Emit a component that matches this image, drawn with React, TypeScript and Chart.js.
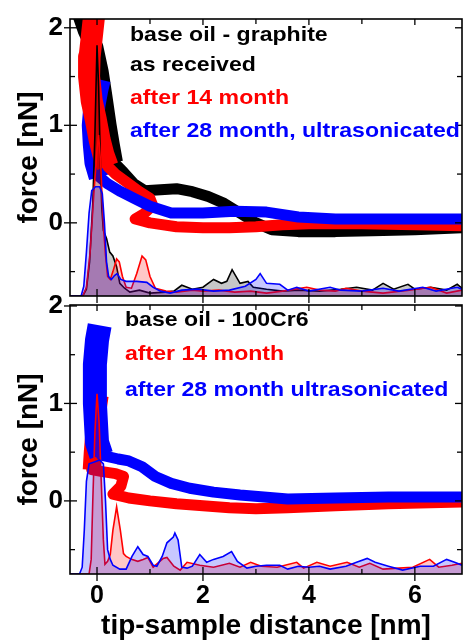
import React, { useEffect, useRef } from "react";
import { Chart, registerables } from "chart.js";
Chart.register(...registerables);

type Pt = [number, number];

// ---------- axes ----------
const X_TICKS = [0, 2, 4, 6];
const Y_TICKS = [0, 1, 2];
const X_MIN = -0.51;
const X_MAX = 6.89;
const Y_MIN = -0.75;
const Y_MAX_TOP = 2.09;
const Y_MAX_BOT = 2.01;

// ---------- legend texts ----------
const TOP_LABELS = ["base oil - graphite", "as received", "after 14 month", "after 28 month, ultrasonicated"];
const TOP_LABEL_COLORS = ["#000000", "#000000", "#ff0000", "#0000ff"];
const BOT_LABELS = ["base oil - 100Cr6", "after 14 month", "after 28 month ultrasonicated"];
const BOT_LABEL_COLORS = ["#000000", "#ff0000", "#0000ff"];

// ---------- top panel: force curves (nm, nN) ----------
const topBlackSteep: Pt[] = [[-0.3, 2.14], [-0.2, 1.98], [-0.05, 1.8], [0.05, 1.55], [0.12, 1.3], [0.2, 1.0], [0.26, 0.8], [0.32, 0.62]];
const topBlackFlat: Pt[] = [[0.32, 0.62], [0.5, 0.52], [0.7, 0.4], [0.9, 0.33], [1.2, 0.34], [1.5, 0.35], [1.8, 0.32], [2.1, 0.27], [2.4, 0.2], [2.7, 0.1], [3.0, 0.0], [3.3, -0.07], [3.8, -0.09], [4.5, -0.09], [5.2, -0.08], [6.0, -0.07], [6.9, -0.05]];
const topRedSteep: Pt[] = [[-0.05, 2.15], [-0.1, 1.9], [-0.14, 1.7], [-0.15, 1.5], [-0.1, 1.25], [-0.02, 1.05], [0.05, 0.85], [0.12, 0.7], [0.2, 0.58]];
const topRedFlat: Pt[] = [[0.2, 0.58], [0.35, 0.5], [0.55, 0.42], [0.8, 0.32], [1.0, 0.25], [1.05, 0.18], [0.88, 0.09], [0.72, 0.04], [1.0, 0.0], [1.5, -0.04], [2.0, -0.05], [2.5, -0.05], [3.0, -0.04], [3.5, -0.02], [4.0, -0.01], [5.0, -0.01], [6.0, -0.02], [6.9, -0.03]];
const topBlueSteep: Pt[] = [[0.05, 1.47], [0.0, 1.35], [-0.05, 1.2], [-0.08, 1.0], [-0.06, 0.8], [-0.03, 0.62], [0.05, 0.47]];
const topBlueFlat: Pt[] = [[0.05, 0.47], [0.2, 0.4], [0.45, 0.32], [0.7, 0.25], [1.0, 0.17], [1.4, 0.1], [2.0, 0.1], [2.6, 0.12], [3.2, 0.11], [3.8, 0.06], [4.5, 0.04], [5.5, 0.04], [6.9, 0.04]];

// ---------- top panel: distributions ----------
const topBlackDist: Pt[] = [[-0.51, -0.75], [-0.27, -0.75], [-0.2, -0.68], [-0.14, -0.4], [-0.08, 0.2], [-0.04, 0.9], [-0.01, 1.6], [0.0, 1.82], [0.03, 1.4], [0.06, 0.7], [0.09, 0.15], [0.12, -0.08], [0.18, -0.16], [0.24, -0.3], [0.3, -0.34], [0.37, -0.45], [0.43, -0.62], [0.52, -0.67], [0.62, -0.71], [0.8, -0.69], [1.0, -0.72], [1.3, -0.71], [1.45, -0.7], [1.6, -0.64], [1.8, -0.68], [2.0, -0.66], [2.2, -0.58], [2.35, -0.62], [2.45, -0.6], [2.55, -0.48], [2.7, -0.62], [2.85, -0.6], [2.95, -0.66], [3.2, -0.68], [3.5, -0.7], [3.8, -0.69], [4.2, -0.7], [4.6, -0.68], [4.9, -0.66], [5.2, -0.69], [5.4, -0.62], [5.6, -0.68], [5.87, -0.63], [6.0, -0.68], [6.3, -0.66], [6.6, -0.69], [6.8, -0.63], [6.89, -0.67]];
const topRedDist: Pt[] = [[-0.51, -0.75], [-0.27, -0.75], [-0.2, -0.66], [-0.13, -0.3], [-0.06, 0.3], [0.0, 0.75], [0.03, 0.9], [0.07, 0.6], [0.1, 0.2], [0.13, -0.1], [0.16, -0.33], [0.2, -0.55], [0.25, -0.58], [0.3, -0.5], [0.37, -0.37], [0.42, -0.4], [0.48, -0.55], [0.55, -0.66], [0.65, -0.67], [0.75, -0.52], [0.85, -0.34], [0.92, -0.38], [1.0, -0.55], [1.1, -0.67], [1.3, -0.7], [1.5, -0.71], [1.8, -0.69], [2.0, -0.7], [2.3, -0.69], [2.6, -0.71], [2.9, -0.7], [3.2, -0.72], [3.5, -0.7], [3.96, -0.66], [4.2, -0.69], [4.5, -0.7], [4.7, -0.67], [5.0, -0.7], [5.4, -0.72], [5.9, -0.69], [6.3, -0.66], [6.6, -0.72], [6.89, -0.69]];
const topBlueDist: Pt[] = [[-0.51, -0.75], [-0.3, -0.75], [-0.25, -0.65], [-0.2, -0.3], [-0.15, 0.1], [-0.1, 0.33], [-0.03, 0.37], [0.05, 0.37], [0.1, 0.3], [0.14, 0.0], [0.18, -0.4], [0.22, -0.55], [0.27, -0.58], [0.33, -0.54], [0.38, -0.52], [0.45, -0.58], [0.55, -0.6], [0.75, -0.6], [0.94, -0.61], [1.06, -0.66], [1.2, -0.7], [1.38, -0.72], [1.6, -0.69], [1.9, -0.68], [2.2, -0.7], [2.5, -0.69], [2.8, -0.65], [3.0, -0.58], [3.08, -0.52], [3.2, -0.62], [3.45, -0.63], [3.6, -0.69], [3.77, -0.66], [4.0, -0.7], [4.4, -0.66], [4.6, -0.69], [5.0, -0.7], [5.4, -0.67], [5.7, -0.7], [6.15, -0.66], [6.4, -0.7], [6.8, -0.66], [6.89, -0.68]];

// ---------- bottom panel: force curves ----------
const botRedSteep: Pt[] = [[0.05, 1.08], [0.0, 0.9], [-0.05, 0.7], [-0.08, 0.5], [-0.1, 0.32]];
const botRedFlat: Pt[] = [[-0.1, 0.32], [0.1, 0.3], [0.35, 0.28], [0.5, 0.25], [0.45, 0.15], [0.3, 0.07], [0.6, 0.03], [1.0, 0.0], [1.5, -0.03], [2.0, -0.05], [2.5, -0.07], [3.0, -0.08], [3.6, -0.07], [4.5, -0.05], [5.5, -0.03], [6.9, -0.01]];
const botBlueSteep: Pt[] = [[0.05, 1.8], [0.0, 1.65], [-0.04, 1.4], [-0.04, 1.0], [0.0, 0.6], [0.08, 0.47]];
const botBlueFlat: Pt[] = [[0.08, 0.47], [0.4, 0.43], [0.6, 0.41], [0.85, 0.35], [1.1, 0.25], [1.4, 0.18], [1.75, 0.13], [2.2, 0.09], [2.7, 0.06], [3.6, 0.02], [4.5, 0.03], [5.5, 0.04], [6.9, 0.04]];

// ---------- bottom panel: distributions ----------
const botRedDist: Pt[] = [[-0.51, -0.75], [-0.15, -0.75], [-0.11, -0.6], [-0.08, 0.0], [-0.04, 0.7], [0.0, 1.1], [0.04, 0.8], [0.08, 0.2], [0.12, -0.4], [0.15, -0.65], [0.2, -0.62], [0.25, -0.55], [0.3, -0.3], [0.37, -0.06], [0.44, -0.3], [0.5, -0.54], [0.55, -0.57], [0.65, -0.6], [0.77, -0.62], [0.87, -0.6], [0.96, -0.58], [1.06, -0.68], [1.25, -0.59], [1.32, -0.58], [1.45, -0.67], [1.57, -0.71], [1.7, -0.63], [1.94, -0.66], [2.2, -0.68], [2.5, -0.64], [2.7, -0.68], [2.9, -0.63], [3.1, -0.67], [3.4, -0.68], [3.77, -0.63], [3.9, -0.69], [4.15, -0.63], [4.4, -0.67], [4.72, -0.63], [4.95, -0.68], [5.15, -0.64], [5.4, -0.7], [5.7, -0.69], [5.96, -0.68], [6.28, -0.6], [6.45, -0.68], [6.7, -0.66], [6.89, -0.64]];
const botBlueDist: Pt[] = [[-0.51, -0.75], [-0.33, -0.75], [-0.28, -0.68], [-0.24, -0.3], [-0.2, 0.2], [-0.15, 0.38], [-0.05, 0.4], [0.05, 0.42], [0.12, 0.38], [0.16, 0.0], [0.2, -0.5], [0.25, -0.6], [0.3, -0.66], [0.43, -0.7], [0.55, -0.7], [0.66, -0.57], [0.77, -0.47], [0.87, -0.55], [0.96, -0.57], [1.06, -0.66], [1.13, -0.67], [1.23, -0.57], [1.32, -0.43], [1.44, -0.37], [1.47, -0.33], [1.53, -0.4], [1.6, -0.68], [1.7, -0.69], [1.8, -0.67], [1.94, -0.55], [2.07, -0.63], [2.2, -0.6], [2.38, -0.57], [2.54, -0.52], [2.65, -0.62], [2.83, -0.69], [3.0, -0.67], [3.2, -0.66], [3.45, -0.66], [3.6, -0.7], [3.8, -0.67], [4.0, -0.68], [4.2, -0.67], [4.4, -0.7], [4.7, -0.67], [4.9, -0.63], [5.1, -0.59], [5.25, -0.63], [5.5, -0.67], [5.77, -0.71], [6.1, -0.67], [6.35, -0.67], [6.6, -0.6], [6.75, -0.63], [6.89, -0.66]];

const FONT = "'Liberation Sans', Arial, Helvetica, sans-serif";
Chart.defaults.font.family = FONT;

const toXY = (pts: Pt[]) => pts.map(([x, y]) => ({ x, y }));

function band(pts: Pt[], color: string, width: number, order: number, cap: string) {
  return {
    data: toXY(pts),
    borderColor: color,
    borderWidth: width,
    borderJoinStyle: "round",
    borderCapStyle: cap,
    pointRadius: 0,
    fill: false,
    tension: 0,
    clip: 0,
    order,
  };
}

function dist(pts: Pt[], color: string, fillColor: string, order: number) {
  return {
    data: toXY(pts),
    borderColor: color,
    backgroundColor: fillColor,
    borderWidth: 1.6,
    pointRadius: 0,
    fill: "start",
    tension: 0,
    clip: 0,
    order,
  };
}

const framePlugin = {
  id: "frame",
  afterDraw(chart: any, _args: any, opts: any) {
    const { ctx, chartArea } = chart;
    const { left, right, top, bottom } = chartArea;
    const xs = chart.scales.x;
    const ys = chart.scales.y;
    ctx.save();
    ctx.strokeStyle = "#000";
    ctx.lineWidth = 1.6;
    ctx.strokeRect(left, top, right - left, bottom - top);
    ctx.lineWidth = 1.3;
    const seg = (x1: number, y1: number, x2: number, y2: number) => {
      ctx.beginPath();
      ctx.moveTo(x1, y1);
      ctx.lineTo(x2, y2);
      ctx.stroke();
    };
    for (let v = Math.ceil(xs.min); v <= xs.max; v++) {
      const px = xs.getPixelForValue(v);
      const major = v % 2 === 0;
      seg(px, bottom - (major ? 7 : 5), px, bottom + (major ? 7 : 0));
      seg(px, top, px, top + (major ? 6 : 5));
    }
    for (let v = Math.ceil(ys.min * 2) / 2; v <= ys.max + 1e-9; v += 0.5) {
      const py = ys.getPixelForValue(v);
      const major = Math.abs(v - Math.round(v)) < 1e-9;
      seg(left - (major ? 6 : 0), py, left + (major ? 7 : 5), py);
      seg(right - (major ? 7 : 5), py, right, py);
    }
    ctx.textBaseline = "middle";
    ctx.textAlign = "left";
    ctx.font = `bold 21px ${FONT}`;
    opts.labels.forEach((t: string, i: number) => {
      ctx.save();
      ctx.translate(opts.x, opts.ys[i]);
      ctx.scale(1.1, 1);
      ctx.fillStyle = opts.colors[i];
      ctx.fillText(t, 0, 0);
      ctx.restore();
    });
    ctx.restore();
  },
};

function makeConfig(kind: "top" | "bot"): any {
  const isTop = kind === "top";
  const datasets = isTop
    ? [
        band(topBlackSteep, "#000000", 18, 30, "butt"),
        band(topBlackFlat, "#000000", 11, 30, "round"),
        band(topRedSteep, "#ff0000", 22, 28, "butt"),
        band(topRedFlat, "#ff0000", 11, 28, "round"),
        band(topBlueSteep, "#0000ff", 22, 29, "butt"),
        band(topBlueFlat, "#0000ff", 11, 27, "round"),
        dist(topBlackDist, "#000000", "rgba(0,0,0,0.22)", 3),
        dist(topRedDist, "#ff0000", "rgba(255,0,0,0.22)", 2),
        dist(topBlueDist, "#0000ff", "rgba(0,0,255,0.22)", 1),
      ]
    : [
        band(botRedSteep, "#ff0000", 18, 29, "butt"),
        band(botRedFlat, "#ff0000", 11, 29, "round"),
        band(botBlueSteep, "#0000ff", 24, 28, "butt"),
        band(botBlueFlat, "#0000ff", 11, 28, "round"),
        dist(botRedDist, "#ff0000", "rgba(255,0,0,0.22)", 2),
        dist(botBlueDist, "#0000ff", "rgba(0,0,255,0.22)", 1),
      ];

  const killPad = (s: any) => {
    s.paddingTop = 0;
    s.paddingBottom = 0;
    s.paddingLeft = 0;
    s.paddingRight = 0;
  };

  return {
    type: "line",
    data: { datasets },
    plugins: [framePlugin],
    options: {
      animation: false,
      responsive: false,
      devicePixelRatio: 1,
      events: [],
      layout: {
        autoPadding: false,
        padding: isTop ? { top: 19, bottom: 14, left: 0, right: 3 } : { top: 25, bottom: 0, left: 0, right: 3 },
      },
      plugins: {
        legend: { display: false },
        tooltip: { enabled: false },
        frame: {
          labels: isTop ? TOP_LABELS : BOT_LABELS,
          colors: isTop ? TOP_LABEL_COLORS : BOT_LABEL_COLORS,
          x: isTop ? 130 : 125,
          ys: isTop ? [35, 65, 98.5, 131.5] : [40, 74, 110],
        },
      },
      scales: {
        x: {
          type: "linear",
          min: X_MIN,
          max: X_MAX,
          display: !isTop,
          grid: { display: false, drawTicks: false },
          border: { display: false },
          afterBuildTicks: (s: any) => {
            s.ticks = X_TICKS.map((v) => ({ value: v }));
          },
          ticks: {
            color: "#000",
            font: { size: 25, weight: "bold" },
            padding: 7,
            maxRotation: 0,
            callback: (v: any) => String(v),
          },
          title: {
            display: true,
            text: "tip-sample distance [nm]",
            color: "#000",
            font: { size: 28, weight: "bold" },
            padding: { top: 0, bottom: 0 },
          },
          afterFit: (s: any) => {
            s.height = isTop ? 0 : 69;
            killPad(s);
          },
        },
        y: {
          type: "linear",
          min: Y_MIN,
          max: isTop ? Y_MAX_TOP : Y_MAX_BOT,
          grid: { display: false, drawTicks: false },
          border: { display: false },
          afterBuildTicks: (s: any) => {
            s.ticks = Y_TICKS.map((v) => ({ value: v }));
          },
          ticks: {
            color: "#000",
            font: { size: 26, weight: "bold" },
            padding: 7,
            callback: (v: any) => String(v),
          },
          title: {
            display: true,
            text: "force [nN]",
            color: "#000",
            font: { size: 28, weight: "bold" },
            padding: { top: 12, bottom: 0 },
          },
          afterFit: (s: any) => {
            s.width = 70;
            killPad(s);
          },
        },
      },
    },
  };
}

export default function App() {
  const topRef = useRef<HTMLCanvasElement>(null);
  const botRef = useRef<HTMLCanvasElement>(null);
  useEffect(() => {
    const c1 = new Chart(topRef.current as HTMLCanvasElement, makeConfig("top"));
    const c2 = new Chart(botRef.current as HTMLCanvasElement, makeConfig("bot"));
    return () => {
      c1.destroy();
      c2.destroy();
    };
  }, []);
  return (
    <div style={{ position: "fixed", left: 0, top: 0, width: 465, height: 643, background: "#ffffff" }}>
      <canvas ref={topRef} width={465} height={310} style={{ position: "absolute", left: 0, top: 0 }} />
      <canvas ref={botRef} width={465} height={363} style={{ position: "absolute", left: 0, top: 280 }} />
    </div>
  );
}
